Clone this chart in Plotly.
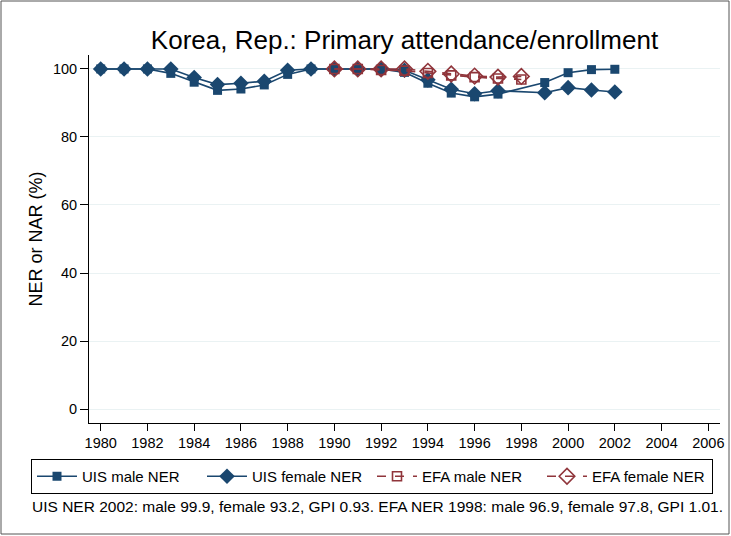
import plotly.graph_objects as go

years_uis = [1980, 1981, 1982, 1983, 1984, 1985, 1986, 1987, 1988, 1989, 1990, 1991, 1992, 1993,
             1994, 1995, 1996, 1997, 1999, 2000, 2001, 2002]
uis_male = [100, 100, 100, 98.7, 96.1, 93.7, 94.1, 95.3, 98.4, 100, 100, 100, 100, 99.0,
            95.8, 92.9, 91.8, 92.6, 96.0, 98.9, 99.8, 99.9]
uis_female = [100, 100, 100, 100, 97.5, 95.4, 95.8, 96.4, 99.6, 100, 100, 100, 100, 99.6,
              96.8, 94.0, 92.7, 93.6, 93.0, 94.5, 93.8, 93.2]

years_efa = [1990, 1991, 1992, 1993, 1994, 1995, 1996, 1997, 1998]
efa_male = [100, 100, 99.7, 99.5, 98.8, 98.1, 97.6, 97.2, 96.9]
efa_female = [100, 100, 100, 100, 99.3, 98.5, 97.9, 97.6, 97.8]

x_ticks = list(range(1980, 2007, 2))
y_ticks = [0, 20, 40, 60, 80, 100]

NAVY = "#1a476f"
MAROON = "#90353b"
FONT = "Liberation Sans, Arial, sans-serif"

fig = go.Figure()
fig.add_trace(go.Scatter(x=years_uis, y=uis_male, name="UIS male NER", mode="lines+markers",
                         line=dict(color=NAVY, width=1.6),
                         marker=dict(symbol="square", size=9, color=NAVY)))
fig.add_trace(go.Scatter(x=years_uis, y=uis_female, name="UIS female NER", mode="lines+markers",
                         line=dict(color=NAVY, width=1.6),
                         marker=dict(symbol="diamond", size=12, color=NAVY)))
fig.add_trace(go.Scatter(x=years_efa, y=efa_male, name="EFA male NER", mode="lines+markers",
                         line=dict(color=MAROON, width=1.6, dash="dash"),
                         marker=dict(symbol="square-open", size=9, color=MAROON, line=dict(width=1.6))))
fig.add_trace(go.Scatter(x=years_efa, y=efa_female, name="EFA female NER", mode="lines+markers",
                         line=dict(color=MAROON, width=1.6, dash="dash"),
                         marker=dict(symbol="diamond-open", size=12, color=MAROON, line=dict(width=1.6))))

W, H = 731, 536
ml, mr, mt, mb = 89, 11, 55, 113
PW, PH = W - ml - mr, H - mt - mb
fig.update_layout(
    width=W, height=H,
    margin=dict(l=ml, r=mr, t=mt, b=mb, autoexpand=False),
    paper_bgcolor="white", plot_bgcolor="white",
    font=dict(family=FONT, size=15, color="black"),
    title=dict(text="Korea, Rep.: Primary attendance/enrollment", x=0.5, xanchor="center",
               xref="paper", y=1 - 40 / H, yanchor="middle", font=dict(size=26, color="black")),
    xaxis=dict(range=[1979.5, 2006.5], tickvals=x_ticks, ticks="outside", ticklen=7,
               tickcolor="black", showline=True, linecolor="black", linewidth=1,
               showgrid=False, zeroline=False, tickfont=dict(size=14.5), automargin=False),
    yaxis=dict(range=[-4.1, 104.1], tickvals=y_ticks, ticks="outside", ticklen=8,
               tickcolor="black", showline=True, linecolor="black", linewidth=1,
               showgrid=True, gridcolor="#eaf2f3", gridwidth=1, zeroline=False,
               title=dict(text="NER or NAR (%)", font=dict(size=18), standoff=5),
               tickfont=dict(size=14.5), automargin=False),
    legend=dict(orientation="h", x=(31 - ml) / PW, xanchor="left", y=-(459 - (H - mb)) / PH,
                yanchor="top", bordercolor="black", borderwidth=1, font=dict(size=15),
                entrywidth=115, itemwidth=40, bgcolor="white"),
    showlegend=True,
)

fig.add_annotation(text="UIS NER 2002: male 99.9, female 93.2, GPI 0.93. EFA NER 1998: male 96.9, female 97.8, GPI 1.01.",
                   xref="paper", yref="paper", x=(30 - ml) / PW, xanchor="left",
                   y=-(506 - (H - mb)) / PH, yanchor="middle", showarrow=False,
                   font=dict(size=15.5, color="black"))

# outer frame of the graph
fig.add_shape(type="rect", xref="paper", yref="paper",
              x0=-(ml - 1) / PW, x1=1 + (mr - 2) / PW,
              y0=-(mb - 2) / PH, y1=1 + (mt - 1) / PH,
              line=dict(color="#555555", width=1))

fig.write_html("out.html", config={"displayModeBar": False},
               post_script="document.body.style.margin='0';document.body.style.overflow='hidden';")
